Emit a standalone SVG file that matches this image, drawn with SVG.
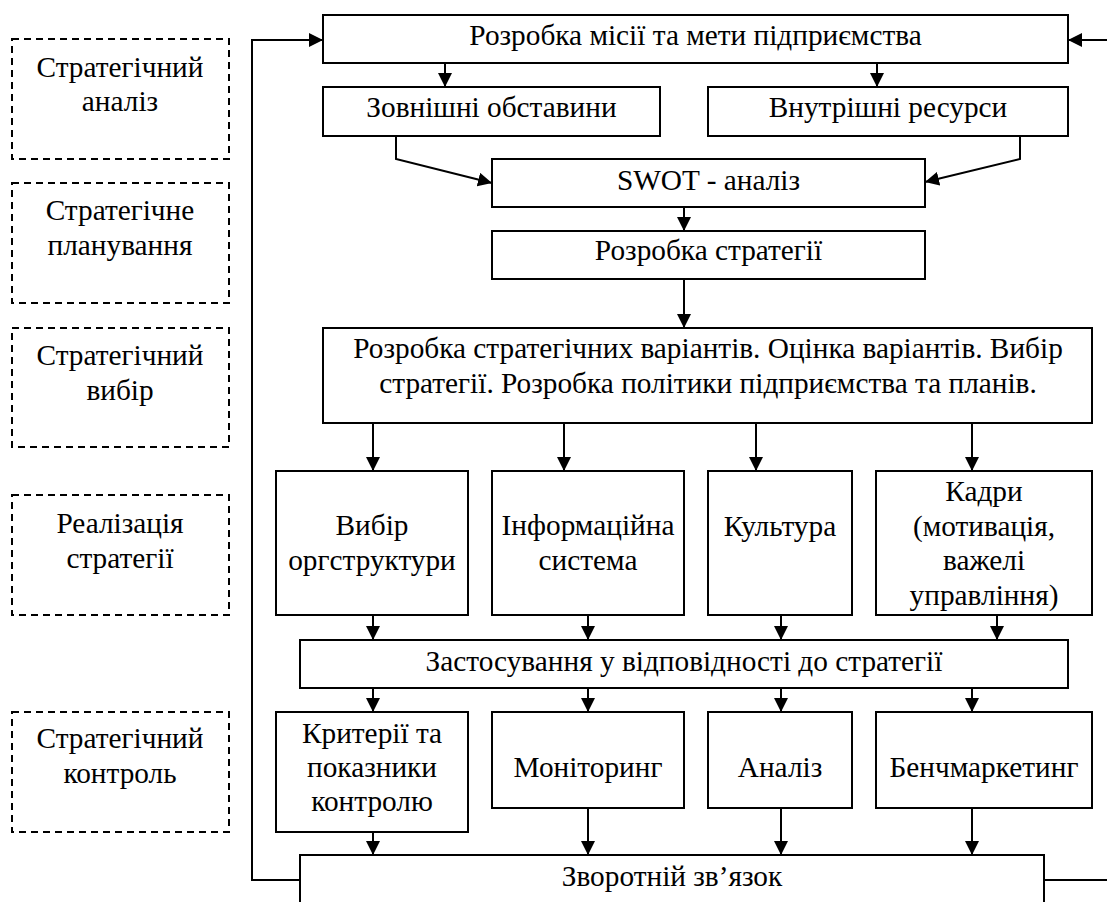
<svg xmlns="http://www.w3.org/2000/svg" width="1107" height="902" viewBox="0 0 1107 902">
<style>
text{font-family:"Liberation Serif","Times New Roman",serif;font-size:29.3px;fill:#000;text-anchor:middle}
.b{fill:#fff;stroke:#000;stroke-width:2}
.d{fill:#fff;stroke:#000;stroke-width:2;stroke-dasharray:7 5}
.c{fill:none;stroke:#000;stroke-width:2}
.a{fill:none;stroke:#000;stroke-width:2;marker-end:url(#ah)}
</style>
<defs>
<marker id="ah" markerUnits="userSpaceOnUse" markerWidth="15" markerHeight="14" refX="14" refY="7" orient="auto">
<path d="M0,0 L14,7 L0,14 z" fill="#000"/>
</marker>
</defs>
<rect width="1107" height="902" fill="#fff"/>
<g id="stages">
<g id="s1"><rect class="d" x="12" y="39" width="217" height="120"/><text x="120" y="77">Стратегічний</text><text x="120" y="110.5">аналіз</text></g>
<g id="s2"><rect class="d" x="12" y="183" width="217" height="120"/><text x="120" y="220">Стратегічне</text><text x="120" y="255">планування</text></g>
<g id="s3"><rect class="d" x="12" y="328" width="217" height="119"/><text x="120" y="365">Стратегічний</text><text x="120" y="400">вибір</text></g>
<g id="s4"><rect class="d" x="12" y="495" width="217" height="120"/><text x="120" y="533">Реалізація</text><text x="120" y="568">стратегії</text></g>
<g id="s5"><rect class="d" x="12" y="712" width="217" height="120"/><text x="120" y="748">Стратегічний</text><text x="120" y="783">контроль</text></g>
</g>
<g id="connectors">
<path class="a" d="M445,63 V87"/>
<path class="a" d="M877,63 V87"/>
<path class="a" d="M396,136 V159 L492,183"/>
<path class="a" d="M1020,136 V159 L925,182"/>
<path class="a" d="M684,207 V231"/>
<path class="a" d="M684,279 V328"/>
<path class="a" d="M373,423 V471"/>
<path class="a" d="M564,423 V471"/>
<path class="a" d="M756,423 V471"/>
<path class="a" d="M972,423 V471"/>
<path class="a" d="M373,615 V640"/>
<path class="a" d="M588,615 V640"/>
<path class="a" d="M781,615 V640"/>
<path class="a" d="M997,615 V640"/>
<path class="a" d="M373,688 V712"/>
<path class="a" d="M588,688 V712"/>
<path class="a" d="M781,688 V712"/>
<path class="a" d="M972,688 V712"/>
<path class="a" d="M373,832 V855"/>
<path class="a" d="M588,808 V855"/>
<path class="a" d="M781,808 V855"/>
<path class="a" d="M972,808 V855"/>
<path class="a" d="M300,880 H252 V40 H323"/>
<path class="c" d="M1044,880 H1107"/>
<path class="a" d="M1107,40 H1068"/>
</g>
<g id="n-mission"><rect class="b" x="323" y="15" width="745" height="48"/><text x="695.5" y="45">Розробка місії та мети підприємства</text></g>
<g id="n-ext"><rect class="b" x="323" y="87" width="337" height="49"/><text x="491.5" y="117">Зовнішні обставини</text></g>
<g id="n-int"><rect class="b" x="708" y="87" width="360" height="49"/><text x="888" y="117">Внутрішні ресурси</text></g>
<g id="n-swot"><rect class="b" x="492" y="159" width="433" height="48"/><text x="708.5" y="190">SWOT - аналіз</text></g>
<g id="n-strat"><rect class="b" x="492" y="231" width="433" height="48"/><text x="708.5" y="260">Розробка стратегії</text></g>
<g id="n-variants"><rect class="b" x="323" y="328" width="769" height="95"/><text x="708" y="358">Розробка стратегічних варіантів. Оцінка варіантів. Вибір</text><text x="708" y="393">стратегії. Розробка політики підприємства та планів.</text></g>
<g id="n-org"><rect class="b" x="276" y="471" width="192" height="144"/><text x="372" y="534.5">Вибір</text><text x="372" y="569.5">оргструктури</text></g>
<g id="n-info"><rect class="b" x="492" y="471" width="192" height="144"/><text x="588" y="534.5">Інформаційна</text><text x="588" y="569.5">система</text></g>
<g id="n-culture"><rect class="b" x="708" y="471" width="144" height="144"/><text x="780" y="536">Культура</text></g>
<g id="n-staff"><rect class="b" x="876" y="471" width="216" height="144"/><text x="984" y="501">Кадри</text><text x="984" y="535.5">(мотивація,</text><text x="984" y="570">важелі</text><text x="984" y="604.5">управління)</text></g>
<g id="n-apply"><rect class="b" x="300" y="640" width="768" height="48"/><text x="684" y="671">Застосування у відповідності до стратегії</text></g>
<g id="n-criteria"><rect class="b" x="276" y="712" width="192" height="120"/><text x="372" y="742.5">Критерії та</text><text x="372" y="776.5">показники</text><text x="372" y="811">контролю</text></g>
<g id="n-monitor"><rect class="b" x="492" y="712" width="192" height="96"/><text x="588" y="777">Моніторинг</text></g>
<g id="n-analysis"><rect class="b" x="708" y="712" width="144" height="96"/><text x="780" y="777">Аналіз</text></g>
<g id="n-bench"><rect class="b" x="876" y="712" width="216" height="96"/><text x="984" y="777">Бенчмаркетинг</text></g>
<g id="n-feedback"><rect class="b" x="300" y="855" width="744" height="60"/><text x="672" y="886">Зворотній зв’язок</text></g>
</svg>
